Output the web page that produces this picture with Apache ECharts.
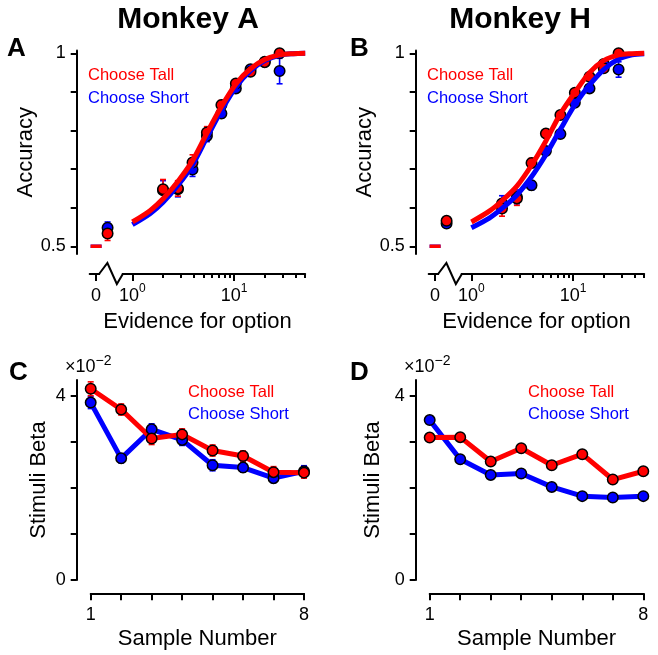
<!DOCTYPE html>
<html><head><meta charset="utf-8">
<script src="https://cdn.jsdelivr.net/npm/echarts@6/dist/echarts.min.js"></script>
<style>html,body{margin:0;padding:0;background:#fff}#c{width:658px;height:655px}</style>
</head><body><div id="c"></div>
<script>
// ---------------- DATA ----------------
const evidenceBins = [0.57, 2, 2.8, 3.9, 5.4, 7.5, 10.4, 14.5, 20, 28];
const zeroEvidence = 0;
const zeroEvidenceAcc = 0.5;
const fitEvidence = [1, 1.5, 2, 2.8, 3.9, 5.4, 7.5, 10.5, 14.5, 20, 28, 38, 50];

const monkeyA_tallAcc   = [0.533, 0.648, 0.650, 0.717, 0.795, 0.866, 0.922, 0.952, 0.977, 1.000];
const monkeyA_tallErr   = [0.018, 0.025, 0.020, 0.020, 0.015, 0.012, 0.010, 0.008, 0.008, 0.005];
const monkeyA_shortAcc  = [0.548, 0.645, 0.648, 0.699, 0.786, 0.844, 0.909, 0.959, 0.978, 0.954];
const monkeyA_shortErr  = [0.015, 0.025, 0.020, 0.018, 0.015, 0.012, 0.010, 0.008, 0.008, 0.033];
const monkeyA_fitTall   = [0.563, 0.593, 0.623, 0.668, 0.722, 0.793, 0.862, 0.922, 0.960, 0.984, 0.996, 0.999, 1.000];
const monkeyA_fitShort  = [0.556, 0.585, 0.614, 0.658, 0.711, 0.782, 0.852, 0.914, 0.955, 0.981, 0.995, 0.999, 1.000];

const monkeyH_tallAcc   = [0.566, 0.598, 0.624, 0.716, 0.792, 0.840, 0.898, 0.939, 0.961, 1.000];
const monkeyH_tallErr   = [0.010, 0.020, 0.018, 0.012, 0.010, 0.010, 0.008, 0.008, 0.008, 0.005];
const monkeyH_shortAcc  = [0.559, 0.611, 0.628, 0.658, 0.747, 0.791, 0.872, 0.909, 0.972, 0.958];
const monkeyH_shortErr  = [0.010, 0.020, 0.018, 0.012, 0.010, 0.010, 0.008, 0.008, 0.008, 0.020];
const monkeyH_fitTall   = [0.563, 0.591, 0.618, 0.656, 0.710, 0.773, 0.843, 0.900, 0.950, 0.981, 0.996, 0.999, 1.000];
const monkeyH_fitShort  = [0.548, 0.573, 0.598, 0.633, 0.680, 0.737, 0.803, 0.868, 0.918, 0.958, 0.985, 0.996, 0.999];

const sampleNumbers = [1, 2, 3, 4, 5, 6, 7, 8];
const monkeyA_betaTall     = [4.15, 3.70, 3.07, 3.16, 2.81, 2.69, 2.34, 2.33];
const monkeyA_betaTallErr  = [0.15, 0.12, 0.13, 0.12, 0.12, 0.11, 0.12, 0.12];
const monkeyA_betaShort    = [3.85, 2.64, 3.27, 3.04, 2.49, 2.44, 2.21, 2.36];
const monkeyA_betaShortErr = [0.13, 0.10, 0.12, 0.12, 0.12, 0.10, 0.10, 0.12];
const monkeyH_betaTall     = [3.09, 3.10, 2.57, 2.86, 2.49, 2.73, 2.18, 2.36];
const monkeyH_betaTallErr  = [0.07, 0.07, 0.07, 0.07, 0.07, 0.07, 0.07, 0.07];
const monkeyH_betaShort    = [3.47, 2.62, 2.28, 2.31, 2.02, 1.82, 1.79, 1.82];
const monkeyH_betaShortErr = [0.06, 0.06, 0.06, 0.06, 0.06, 0.06, 0.06, 0.06];

// tick labels / tick positions
const evidenceMajorTicks = [0, 1, 10];
const evidenceMinorTicks = [2, 3, 4, 5, 6, 7, 8, 9, 20, 30, 40, 50];
const accuracyTicks = [0.5, 0.6, 0.7, 0.8, 0.9, 1];
const accuracyLabels = [0.5, 1];
const betaTicks = [0, 1, 2, 3, 4];
const betaLabels = [0, 4];
const sampleLabels = [1, 8];
const seriesNames = ['Choose Tall', 'Choose Short'];
const panelTitles = ['Monkey A', 'Monkey H'];

// ---------------- STYLE / LAYOUT ----------------
const RED = '#ff0000', BLUE = '#0000ff', BLACK = '#000';
const FONT = '"Liberation Sans", Arial, Helvetica, sans-serif';
const ZERO_POS = -0.357;                 // where evidence "0" sits left of the axis break
const lg = e => e === 0 ? ZERO_POS : Math.log10(e);
const X_MIN = -0.42, X_MAX = Math.log10(evidenceMinorTicks[evidenceMinorTicks.length - 1]);
const ACC_MIN = 0.48, ACC_MAX = 1.007;
const BETA_MIN = 0, BETA_MAX = 4.34;
const X_OFF_AB = 20, X_OFF_CD = 13.3;
const BREAK_PTS = [-0.318, -0.246, -0.153, -0.104];

const axisLineStyle = {show: true, onZero: false, lineStyle: {color: BLACK, width: 2}};
const tickLine = {color: BLACK, width: 2};

function errRender(color) {
  return function (params, api) {
    const x = api.value(0), y = api.value(1), e = api.value(2);
    const t = api.coord([x, y + e]), b = api.coord([x, y - e]);
    const cw = 3;
    const st = {stroke: color, lineWidth: 1.6};
    return {type: 'group', children: [
      {type: 'line', shape: {x1: t[0], y1: t[1], x2: b[0], y2: b[1]}, style: st},
      {type: 'line', shape: {x1: t[0] - cw, y1: t[1], x2: t[0] + cw, y2: t[1]}, style: st},
      {type: 'line', shape: {x1: b[0] - cw, y1: b[1], x2: b[0] + cw, y2: b[1]}, style: st}
    ]};
  };
}

function zigzagRender(params, api) {
  const base = api.coord([BREAK_PTS[0], ACC_MIN])[1] + X_OFF_AB;
  const px = BREAK_PTS.map(b => api.coord([b, ACC_MIN])[0]);
  return {type: 'group', children: [
    {type: 'rect', shape: {x: px[0], y: base - 3, width: px[3] - px[0], height: 6}, style: {fill: '#fff'}},
    {type: 'polyline', shape: {points: [[px[0] - 1, base], [px[1], base - 11], [px[2], base + 10], [px[3] + 1, base]]},
     style: {stroke: BLACK, lineWidth: 2, fill: null}}
  ]};
}

const supRich = {
  n: {fontSize: 18, lineHeight: 26, color: BLACK, fontFamily: FONT},
  s: {fontSize: 12, lineHeight: 14, verticalAlign: 'top', color: BLACK, fontFamily: FONT}
};

function accXAxes(gridIndex) {
  return [
    {type: 'value', gridIndex, position: 'bottom', offset: X_OFF_AB, min: X_MIN, max: X_MAX,
     name: 'Evidence for option', nameLocation: 'middle', nameGap: 37,
     nameTextStyle: {fontSize: 22, color: BLACK, fontFamily: FONT},
     axisLine: axisLineStyle,
     axisTick: {show: true, length: 7, lineStyle: tickLine, customValues: evidenceMajorTicks.map(lg)},
     axisLabel: {show: true, margin: 9, customValues: evidenceMajorTicks.map(lg), rich: supRich,
       formatter: v => Math.abs(v - ZERO_POS) < 1e-6 ? '{n|0}' : '{n|10}{s|' + Math.round(v) + '}'},
     splitLine: {show: false}},
    {type: 'value', gridIndex, position: 'bottom', offset: X_OFF_AB, min: X_MIN, max: X_MAX,
     axisLine: {show: false, onZero: false},
     axisTick: {show: true, length: 4, lineStyle: tickLine, customValues: evidenceMinorTicks.map(lg)},
     axisLabel: {show: false}, splitLine: {show: false}}
  ];
}

function accYAxis(gridIndex, gap) {
  return {type: 'value', gridIndex, position: 'left', offset: 13, min: ACC_MIN, max: ACC_MAX,
    name: 'Accuracy', nameLocation: 'middle', nameGap: gap,
    nameTextStyle: {fontSize: 22, color: BLACK, fontFamily: FONT},
    axisLine: axisLineStyle,
    axisTick: {show: true, length: 6, lineStyle: tickLine, customValues: accuracyTicks},
    axisLabel: {show: true, margin: 11, fontSize: 18, color: BLACK, fontFamily: FONT,
      customValues: accuracyLabels, formatter: v => String(v)},
    splitLine: {show: false}};
}

function betaXAxis(gridIndex) {
  return {type: 'value', gridIndex, position: 'bottom', offset: X_OFF_CD, min: sampleNumbers[0], max: sampleNumbers[sampleNumbers.length - 1],
    name: 'Sample Number', nameLocation: 'middle', nameGap: 35,
    nameTextStyle: {fontSize: 22, color: BLACK, fontFamily: FONT},
    axisLine: axisLineStyle,
    axisTick: {show: true, length: 7, lineStyle: tickLine, customValues: sampleNumbers},
    axisLabel: {show: true, margin: 13, fontSize: 18, color: BLACK, fontFamily: FONT, customValues: sampleLabels},
    splitLine: {show: false}};
}

function betaYAxis(gridIndex, gap) {
  return {type: 'value', gridIndex, position: 'left', offset: 14, min: BETA_MIN, max: BETA_MAX,
    name: 'Stimuli Beta', nameLocation: 'middle', nameGap: gap,
    nameTextStyle: {fontSize: 22, color: BLACK, fontFamily: FONT},
    axisLine: axisLineStyle,
    axisTick: {show: true, length: 6, lineStyle: tickLine, customValues: betaTicks},
    axisLabel: {show: true, margin: 11, fontSize: 18, color: BLACK, fontFamily: FONT, customValues: betaLabels},
    splitLine: {show: false}};
}

function accSeries(xi, yi, d) {
  const pts = (ys) => evidenceBins.map((e, i) => [lg(e), ys[i]]);
  const errs = (ys, es) => evidenceBins.map((e, i) => [lg(e), ys[i], es[i]]);
  const fit = (ys) => fitEvidence.map((e, i) => [lg(e), ys[i]]);
  const marker = (c) => ({color: c, borderColor: BLACK, borderWidth: 1.5, opacity: 1});
  return [
    {type: 'line', name: seriesNames[1], xAxisIndex: xi, yAxisIndex: yi, data: fit(d.fitShort), smooth: 0.3,
     showSymbol: false, symbol: 'none', lineStyle: {color: BLUE, width: 5}, itemStyle: {color: BLUE}, silent: true},
    {type: 'line', name: seriesNames[0], xAxisIndex: xi, yAxisIndex: yi, data: fit(d.fitTall), smooth: 0.3,
     showSymbol: false, symbol: 'none', lineStyle: {color: RED, width: 5}, itemStyle: {color: RED}, silent: true},
    {type: 'scatter', name: seriesNames[1], xAxisIndex: xi, yAxisIndex: yi, data: [[lg(zeroEvidence), zeroEvidenceAcc]],
     symbol: 'rect', symbolSize: [11, 3.5], itemStyle: {color: BLUE, opacity: 1}},
    {type: 'scatter', name: seriesNames[0], xAxisIndex: xi, yAxisIndex: yi, data: [[lg(zeroEvidence), zeroEvidenceAcc]],
     symbol: 'rect', symbolSize: [11, 3.5], itemStyle: {color: RED, opacity: 1}},
    {type: 'custom', name: seriesNames[1], xAxisIndex: xi, yAxisIndex: yi, data: errs(d.shortAcc, d.shortErr), renderItem: errRender(BLUE), silent: true},
    {type: 'scatter', name: seriesNames[1], xAxisIndex: xi, yAxisIndex: yi, data: pts(d.shortAcc), symbol: 'circle', symbolSize: 10.5, itemStyle: marker(BLUE)},
    {type: 'custom', name: seriesNames[0], xAxisIndex: xi, yAxisIndex: yi, data: errs(d.tallAcc, d.tallErr), renderItem: errRender(RED), silent: true},
    {type: 'scatter', name: seriesNames[0], xAxisIndex: xi, yAxisIndex: yi, data: pts(d.tallAcc), symbol: 'circle', symbolSize: 10.5, itemStyle: marker(RED)},
    {type: 'custom', name: 'break', xAxisIndex: xi, yAxisIndex: yi, data: [[BREAK_PTS[0], ACC_MIN]], renderItem: zigzagRender, clip: false, silent: true, z: 5}
  ];
}

function betaSeries(xi, yi, d) {
  const pts = (ys) => sampleNumbers.map((s, i) => [s, ys[i]]);
  const errs = (ys, es) => sampleNumbers.map((s, i) => [s, ys[i], es[i]]);
  const lineS = (name, c, ys) => ({type: 'line', name, xAxisIndex: xi, yAxisIndex: yi, data: pts(ys),
    symbol: 'circle', symbolSize: 10.5, showSymbol: true,
    lineStyle: {color: c, width: 5}, itemStyle: {color: c, borderColor: BLACK, borderWidth: 1.5, opacity: 1}});
  return [
    {type: 'custom', name: seriesNames[1], xAxisIndex: xi, yAxisIndex: yi, data: errs(d.short, d.shortErr), renderItem: errRender(BLUE), silent: true},
    lineS(seriesNames[1], BLUE, d.short),
    {type: 'custom', name: seriesNames[0], xAxisIndex: xi, yAxisIndex: yi, data: errs(d.tall, d.tallErr), renderItem: errRender(RED), silent: true},
    lineS(seriesNames[0], RED, d.tall)
  ];
}

function txt(text, x, y, size, color, bold, align) {
  return {type: 'text', x, y, silent: true, style: {text, fontSize: size, fontWeight: bold ? 'bold' : 'normal',
    fontFamily: FONT, fill: color, align: align || 'left', verticalAlign: 'middle'}};
}
function sci(x, y) {
  return {type: 'text', x, y, silent: true, style: {text: '{a|×10}{b|−2}', align: 'left', verticalAlign: 'middle',
    rich: {a: {fontSize: 18, lineHeight: 26, fill: BLACK, fontFamily: FONT},
           b: {fontSize: 14, lineHeight: 14, verticalAlign: 'top', fill: BLACK, fontFamily: FONT}}}};
}

const option = {
  animation: false,
  backgroundColor: '#fff',
  textStyle: {fontFamily: FONT},
  grid: [
    {left: 89.7, top: 50.6, width: 215.5, height: 203.4, outerBoundsMode: 'none'},
    {left: 428.7, top: 50.6, width: 215.5, height: 203.4, outerBoundsMode: 'none'},
    {left: 90.7, top: 380, width: 213.3, height: 200, outerBoundsMode: 'none'},
    {left: 429.7, top: 380, width: 213.6, height: 200, outerBoundsMode: 'none'}
  ],
  xAxis: [...accXAxes(0), ...accXAxes(1), betaXAxis(2), betaXAxis(3)],
  yAxis: [accYAxis(0, 31), accYAxis(1, 29), betaYAxis(2, 27), betaYAxis(3, 32)],
  series: [
    ...accSeries(0, 0, {tallAcc: monkeyA_tallAcc, tallErr: monkeyA_tallErr, shortAcc: monkeyA_shortAcc, shortErr: monkeyA_shortErr,
                        fitTall: monkeyA_fitTall, fitShort: monkeyA_fitShort}),
    ...accSeries(2, 1, {tallAcc: monkeyH_tallAcc, tallErr: monkeyH_tallErr, shortAcc: monkeyH_shortAcc, shortErr: monkeyH_shortErr,
                        fitTall: monkeyH_fitTall, fitShort: monkeyH_fitShort}),
    ...betaSeries(4, 2, {tall: monkeyA_betaTall, tallErr: monkeyA_betaTallErr, short: monkeyA_betaShort, shortErr: monkeyA_betaShortErr}),
    ...betaSeries(5, 3, {tall: monkeyH_betaTall, tallErr: monkeyH_betaTallErr, short: monkeyH_betaShort, shortErr: monkeyH_betaShortErr})
  ],
  graphic: [
    txt(panelTitles[0], 188, 20, 30, BLACK, true, 'center'),
    txt(panelTitles[1], 520, 20, 30, BLACK, true, 'center'),
    txt('A', 7, 49, 26, BLACK, true), txt('B', 350, 49, 26, BLACK, true),
    txt('C', 9, 373, 26, BLACK, true), txt('D', 350, 373, 26, BLACK, true),
    txt(seriesNames[0], 88, 75, 16.5, RED), txt(seriesNames[1], 88, 98, 16.5, BLUE),
    txt(seriesNames[0], 427, 75, 16.5, RED), txt(seriesNames[1], 427, 98, 16.5, BLUE),
    txt(seriesNames[0], 188, 392, 16.5, RED), txt(seriesNames[1], 188, 414, 16.5, BLUE),
    txt(seriesNames[0], 528, 392, 16.5, RED), txt(seriesNames[1], 528, 414, 16.5, BLUE),
    sci(65, 367), sci(404, 367)
  ]
};

const chart = echarts.init(document.getElementById('c'), null, {renderer: 'canvas'});
chart.setOption(option);
</script>
</body></html>
